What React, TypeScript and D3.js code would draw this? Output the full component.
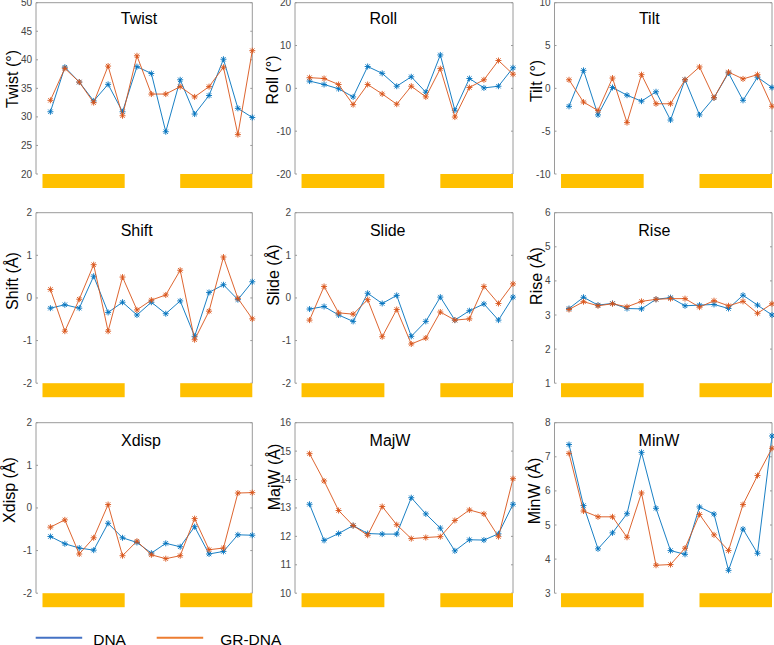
import React from 'react';
import * as d3 from 'd3';

// base-pair step index
const steps = [1, 2, 3, 4, 5, 6, 7, 8, 9, 10, 11, 12, 13, 14, 15];
const seriesNames = ['DNA', 'GR-DNA'];

const twistDNA = [30.9, 38.7, 36.1, 32.8, 35.7, 30.9, 38.8, 37.6, 27.4, 36.5, 30.5, 33.75, 40.1, 31.5, 29.9];
const twistGR = [32.9, 38.5, 36.1, 32.5, 38.9, 30.2, 40.7, 34.0, 34.0, 35.3, 33.5, 35.3, 38.7, 26.9, 41.6];
const twistTicks = [20, 25, 30, 35, 40, 45, 50];

const rollDNA = [1.7, 0.9, -0.1, -2.0, 5.1, 3.5, 0.5, 2.7, -0.9, 7.8, -5.1, 2.3, 0.1, 0.5, 4.8];
const rollGR = [2.5, 2.3, 0.9, -3.8, 0.9, -1.3, -3.7, 0.5, -2.0, 4.6, -6.7, 0.2, 2.0, 6.5, 3.3];
const rollTicks = [-20, -10, 0, 10, 20];

const tiltDNA = [-2.1, 2.1, -3.1, 0.1, -0.8, -1.5, -0.4, -3.7, 1.0, -3.1, -1.1, 1.8, -1.4, 1.3, 0.1];
const tiltGR = [1.0, -1.6, -2.6, 1.2, -4.0, 1.6, -1.8, -1.8, 1.0, 2.5, -1.1, 1.9, 1.1, 1.6, -2.1];
const tiltTicks = [-10, -5, 0, 5, 10];

const shiftDNA = [-0.24, -0.16, -0.24, 0.51, -0.34, -0.1, -0.4, -0.1, -0.37, -0.07, -0.9, 0.13, 0.31, -0.04, 0.38];
const shiftGR = [0.2, -0.78, -0.03, 0.78, -0.78, 0.49, -0.28, -0.05, 0.07, 0.65, -0.98, -0.31, 0.96, -0.01, -0.49];
const shiftTicks = [-2, -1, 0, 1, 2];

const slideDNA = [-0.26, -0.2, -0.4, -0.55, 0.11, -0.13, 0.06, -0.9, -0.55, 0.02, -0.52, -0.3, -0.14, -0.52, 0.02];
const slideGR = [-0.52, 0.27, -0.35, -0.38, -0.04, -0.91, -0.27, -1.08, -0.94, -0.33, -0.52, -0.49, 0.27, -0.13, 0.33];
const slideTicks = [-2, -1, 0, 1, 2];

const riseDNA = [3.19, 3.52, 3.29, 3.34, 3.19, 3.18, 3.46, 3.51, 3.27, 3.29, 3.31, 3.19, 3.58, 3.29, 3.0];
const riseGR = [3.16, 3.39, 3.27, 3.33, 3.24, 3.4, 3.46, 3.48, 3.48, 3.23, 3.42, 3.27, 3.4, 3.05, 3.33];
const riseTicks = [1, 2, 3, 4, 5, 6];

const xdispDNA = [-0.67, -0.84, -0.94, -0.99, -0.36, -0.7, -0.81, -1.06, -0.83, -0.91, -0.44, -1.08, -1.02, -0.63, -0.64];
const xdispGR = [-0.45, -0.28, -1.08, -0.7, 0.08, -1.12, -0.78, -1.1, -1.19, -1.12, -0.25, -0.98, -0.94, 0.35, 0.36];
const xdispTicks = [-2, -1, 0, 1, 2];

const majwDNA = [13.13, 11.86, 12.1, 12.38, 12.1, 12.08, 12.08, 13.36, 12.79, 12.29, 11.49, 11.88, 11.87, 12.09, 13.13];
const majwGR = [14.91, 13.95, 12.91, 12.38, 12.04, 13.05, 12.41, 11.92, 11.96, 11.99, 12.56, 12.93, 12.79, 11.99, 14.03];
const majwTicks = [10, 11, 12, 13, 14, 15, 16];

const minwDNA = [7.36, 5.57, 4.3, 4.77, 5.33, 7.13, 5.49, 4.25, 4.14, 5.53, 5.32, 3.67, 4.88, 4.17, 7.61];
const minwGR = [7.1, 5.41, 5.24, 5.24, 4.64, 5.94, 3.82, 3.84, 4.32, 5.31, 4.71, 4.25, 5.6, 6.45, 7.25];
const minwTicks = [3, 4, 5, 6, 7, 8];

// highlighted regions (in step units)
const regionStarts = [0.45, 10];
const regionEnds = [6.15, 15];

const panelTitles = ['Twist', 'Roll', 'Tilt', 'Shift', 'Slide', 'Rise', 'Xdisp', 'MajW', 'MinW'];
const panelLabels = ['Twist (°)', 'Roll (°)', 'Tilt (°)', 'Shift (Å)', 'Slide (Å)', 'Rise (Å)', 'Xdisp (Å)', 'MajW (Å)', 'MinW (Å)'];
const panelDNA = [twistDNA, rollDNA, tiltDNA, shiftDNA, slideDNA, riseDNA, xdispDNA, majwDNA, minwDNA];
const panelGR = [twistGR, rollGR, tiltGR, shiftGR, slideGR, riseGR, xdispGR, majwGR, minwGR];
const panelTicks = [twistTicks, rollTicks, tiltTicks, shiftTicks, slideTicks, riseTicks, xdispTicks, majwTicks, minwTicks];

// ---- layout (pixels) ----
const W = 774;
const H = 645;
const colLeft = [36, 295, 554.5];
const colRight = [252.3, 513, 772];
const rowTop = [2.7, 212.7, 422.7];
const rowBottom = [174, 383.2, 593.2];
const titlePos = [
  [139, 23.5], [383.3, 23.5], [649.3, 23.5],
  [136.7, 236], [387.7, 236], [654.3, 236],
  [141, 445.5], [390, 445.5], [659, 445.5],
];
const labelPos = [
  [12.5, 79], [272, 80], [536, 81],
  [12.5, 281], [273, 275], [536, 276],
  [9, 490], [274, 477], [534, 491],
];

const COLORS = ['#0072BD', '#D95319'];
const LEGEND_COLORS = ['#4472C4', '#ED7D31'];
const BAR_COLOR = '#FFC000';
const AXIS_COLOR = '#9a9a9a';
const FONT = 'Liberation Sans, Arial, Helvetica, sans-serif';

const star = 'M-3,0H3M0,-3V3M-2.2,-2.2L2.2,2.2M-2.2,2.2L2.2,-2.2';

function Panel({ i }: { i: number }) {
  const col = i % 3;
  const row = Math.floor(i / 3);
  const x0 = colLeft[col];
  const x1 = colRight[col];
  const y0 = rowTop[row];
  const y1 = rowBottom[row];
  const ticks = panelTicks[i];
  const x = d3.scaleLinear().domain([0, 15]).range([x0, x1]);
  const y = d3.scaleLinear().domain([ticks[0], ticks[ticks.length - 1]]).range([y1, y0]);
  const line = d3
    .line<number>()
    .x((_, k) => x(steps[k]))
    .y((d) => y(d));
  const series = [panelDNA[i], panelGR[i]];
  return (
    <g>
      {/* frame: left, top, right */}
      <path d={`M${x0},${y1}V${y0}H${x1}V${y1}`} fill="none" stroke={AXIS_COLOR} strokeWidth={1} />
      {ticks.map((t) => (
        <g key={t}>
          <line x1={x0} x2={x0 + 2} y1={y(t)} y2={y(t)} stroke={AXIS_COLOR} />
          <line x1={x1 - 2} x2={x1} y1={y(t)} y2={y(t)} stroke={AXIS_COLOR} />
          <text
            x={x0 - 4}
            y={y(t)}
            dy="0.35em"
            textAnchor="end"
            fontSize={10}
            fontFamily={FONT}
            fill="#444"
          >
            {t}
          </text>
        </g>
      ))}
      {regionStarts.map((s, k) => (
        <rect key={k} x={x(s)} y={y1} width={x(regionEnds[k]) - x(s)} height={14} fill={BAR_COLOR} />
      ))}
      {series.map((vals, s) => (
        <g key={s}>
          <path d={line(vals) || ''} fill="none" stroke={COLORS[s]} strokeWidth={0.9} />
          {vals.map((v, k) => (
            <path
              key={k}
              d={star}
              transform={`translate(${x(steps[k])},${y(v)})`}
              fill="none"
              stroke={COLORS[s]}
              strokeWidth={0.9}
            />
          ))}
        </g>
      ))}
      <text
        x={titlePos[i][0]}
        y={titlePos[i][1]}
        textAnchor="middle"
        fontSize={16}
        fontFamily={FONT}
        fill="#000"
      >
        {panelTitles[i]}
      </text>
      <text
        transform={`translate(${labelPos[i][0] + 5.5},${labelPos[i][1]}) rotate(-90)`}
        textAnchor="middle"
        fontSize={16}
        fontFamily={FONT}
        fill="#000"
      >
        {panelLabels[i]}
      </text>
    </g>
  );
}

export default function App() {
  const legendX = [35.7, 156.7];
  return (
    <svg
      width={W}
      height={H}
      style={{ position: 'absolute', left: 0, top: 0, background: '#fff' }}
    >
      <rect width={W} height={H} fill="#fff" />
      {panelTitles.map((_, i) => (
        <Panel key={i} i={i} />
      ))}
      {seriesNames.map((n, k) => (
        <g key={n}>
          <line
            x1={legendX[k]}
            x2={legendX[k] + 46.5}
            y1={637.7}
            y2={637.7}
            stroke={LEGEND_COLORS[k]}
            strokeWidth={2}
          />
          <text x={legendX[k] + 57.5 + (k === 1 ? 6 : 0)} y={644.5} fontSize={15.5} fontFamily={FONT} fill="#000">
            {n}
          </text>
        </g>
      ))}
    </svg>
  );
}
